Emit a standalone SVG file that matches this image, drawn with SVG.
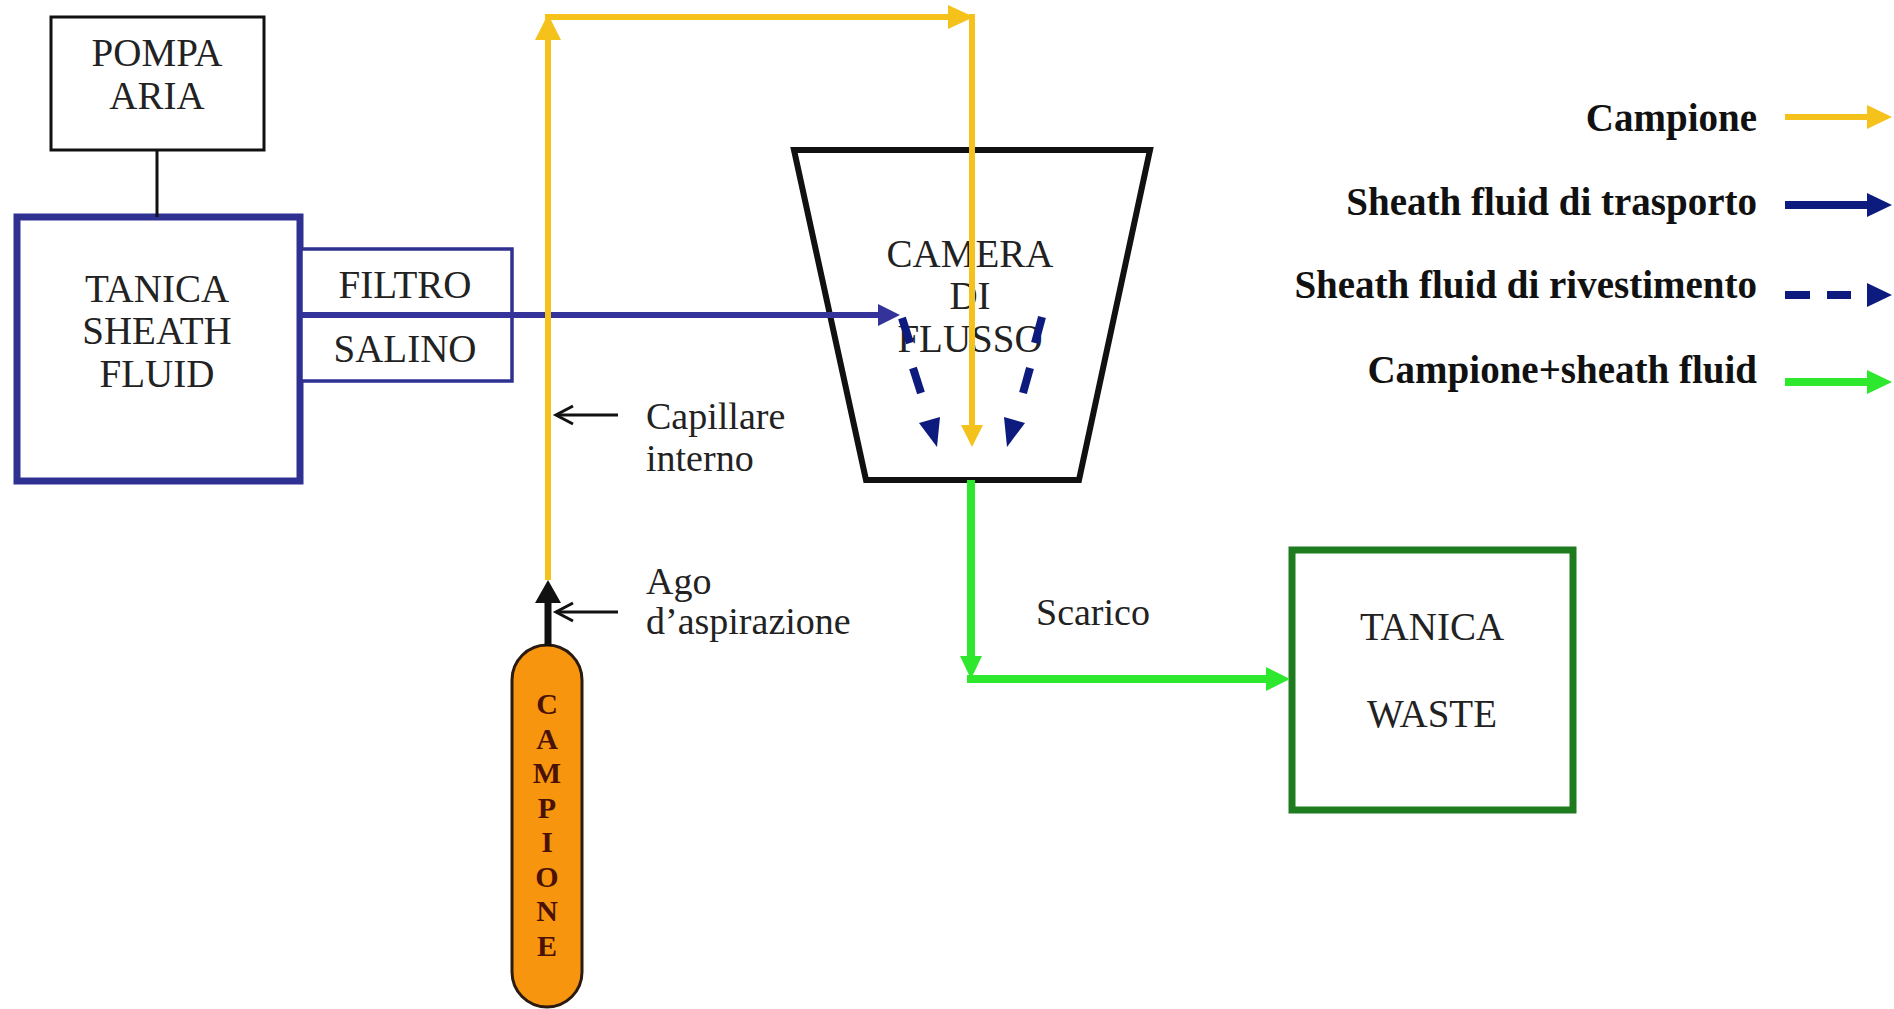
<svg xmlns="http://www.w3.org/2000/svg" width="1894" height="1009" viewBox="0 0 1894 1009">
<style>
.t{font-family:"Liberation Serif","Times New Roman",serif;font-size:39px;fill:#222;text-anchor:middle}
.tl{font-family:"Liberation Serif","Times New Roman",serif;font-size:38px;fill:#222}
.lg{font-family:"Liberation Serif","Times New Roman",serif;font-size:39px;font-weight:bold;fill:#111;text-anchor:end}
.cap{font-family:"Liberation Serif","Times New Roman",serif;font-size:30px;font-weight:bold;fill:#4a1205;text-anchor:middle}
.yel{stroke:#F5C21B;stroke-width:6;fill:none}
.yelf{fill:#F5C21B}
.blu{stroke:#333399;stroke-width:6;fill:none}
.bluf{fill:#333399}
.nav{stroke:#0d1a7e;stroke-width:8;fill:none}
.navf{fill:#0d1a7e}
.grn{stroke:#2EE82E;stroke-width:8;fill:none}
.grnf{fill:#2EE82E}
.thin{stroke:#111;stroke-width:3;fill:none}
</style>
<rect width="1894" height="1009" fill="#fff"/>

<g id="pompa-aria">
<rect x="51" y="17" width="213" height="133" fill="#fff" stroke="#111" stroke-width="3"/>
<text class="t" x="157" y="66">POMPA</text>
<text class="t" x="157" y="109">ARIA</text>
</g>

<g id="tanica-sheath">
<rect x="17" y="217" width="283" height="264" fill="#fff" stroke="#2E3192" stroke-width="7"/>
<text class="t" x="157" y="302">TANICA</text>
<text class="t" x="157" y="344">SHEATH</text>
<text class="t" x="157" y="387">FLUID</text>
</g>

<g id="filtro-salino">
<rect x="301" y="249" width="211" height="132" fill="#fff" stroke="#2E3192" stroke-width="3.5"/>
<text class="t" x="405" y="298">FILTRO</text>
<text class="t" x="405" y="362">SALINO</text>
</g>

<g id="camera-flusso">
<polygon points="794,150 1150,150 1079,480 866,480" fill="#fff" stroke="#111" stroke-width="6"/>
<text class="t" x="970" y="267" fill="#333">CAMERA</text>
<text class="t" x="970" y="309">DI</text>
<text class="t" x="970" y="352">FLUSSO</text>
</g>

<g id="tanica-waste">
<rect x="1292" y="550" width="281" height="260" fill="#fff" stroke="#1E7B1E" stroke-width="7"/>
<text class="t" x="1432" y="640">TANICA</text>
<text class="t" x="1432" y="727">WASTE</text>
</g>

<g id="campione">
<rect x="512" y="645" width="70" height="362" rx="35" ry="35" fill="#F7950F" stroke="#2a1a10" stroke-width="3"/>
<text class="cap" x="547" y="714">C</text>
<text class="cap" x="547" y="749">A</text>
<text class="cap" x="547" y="783">M</text>
<text class="cap" x="547" y="818">P</text>
<text class="cap" x="547" y="852">I</text>
<text class="cap" x="547" y="887">O</text>
<text class="cap" x="547" y="921">N</text>
<text class="cap" x="547" y="956">E</text>
</g>

<g id="labels">
<text class="tl" x="646" y="429">Capillare</text>
<text class="tl" x="646" y="471">interno</text>
<text class="tl" x="646" y="594">Ago</text>
<text class="tl" x="646" y="634">d’aspirazione</text>
<text class="tl" x="1036" y="625">Scarico</text>
</g>

<g id="connectors">
<line x1="157" y1="150" x2="157" y2="217" stroke="#111" stroke-width="3"/>
<line class="blu" x1="300" y1="315" x2="880" y2="315"/>
<polygon class="bluf" points="900,315 878,304 878,326"/>
<polyline class="yel" points="548,580 548,17 950,17"/>
<polygon class="yelf" points="548,14 535,40 561,40"/>
<polygon class="yelf" points="974,17 948,5 948,29"/>
<line class="yel" x1="972" y1="14" x2="972" y2="428"/>
<polygon class="yelf" points="972,447 961,425 983,425"/>
<line x1="548" y1="646" x2="548" y2="600" stroke="#111" stroke-width="7"/>
<polygon points="548,580 535,603 561,603" fill="#111"/>
<line class="thin" x1="618" y1="415" x2="556" y2="415"/>
<polyline class="thin" points="573,406 556,415 573,424"/>
<line class="thin" x1="618" y1="612" x2="556" y2="612"/>
<polyline class="thin" points="573,603 556,612 573,621"/>
<line class="nav" x1="902" y1="318" x2="910" y2="343"/>
<line class="nav" x1="913" y1="368" x2="921" y2="393"/>
<polygon class="navf" points="937,447 940,417 919,423"/>
<line class="nav" x1="1042" y1="317" x2="1035" y2="343"/>
<line class="nav" x1="1030" y1="368" x2="1023" y2="393"/>
<polygon class="navf" points="1007,447 1025,423 1004,417"/>
<line class="grn" x1="971" y1="480" x2="971" y2="660"/>
<polygon class="grnf" points="971,679 960,656 982,656"/>
<line class="grn" x1="967" y1="679" x2="1268" y2="679"/>
<polygon class="grnf" points="1290,679 1266,667 1266,691"/>
</g>

<g id="legend">
<text class="lg" x="1757" y="131">Campione</text>
<text class="lg" x="1757" y="215">Sheath fluid di trasporto</text>
<text class="lg" x="1757" y="298">Sheath fluid di rivestimento</text>
<text class="lg" x="1757" y="383">Campione+sheath fluid</text>
<line class="yel" x1="1785" y1="117" x2="1870" y2="117" stroke-width="7"/>
<polygon class="yelf" points="1892,117 1867,105 1867,129"/>
<line class="nav" x1="1785" y1="205" x2="1870" y2="205" stroke-width="7"/>
<polygon class="navf" points="1892,205 1867,193 1867,217"/>
<line class="nav" x1="1785" y1="295" x2="1810" y2="295" stroke-width="7"/>
<line class="nav" x1="1827" y1="295" x2="1851" y2="295" stroke-width="7"/>
<polygon class="navf" points="1892,295 1867,283 1867,307"/>
<line class="grn" x1="1785" y1="382" x2="1870" y2="382" stroke-width="7"/>
<polygon class="grnf" points="1892,382 1867,370 1867,394"/>
</g>
</svg>
